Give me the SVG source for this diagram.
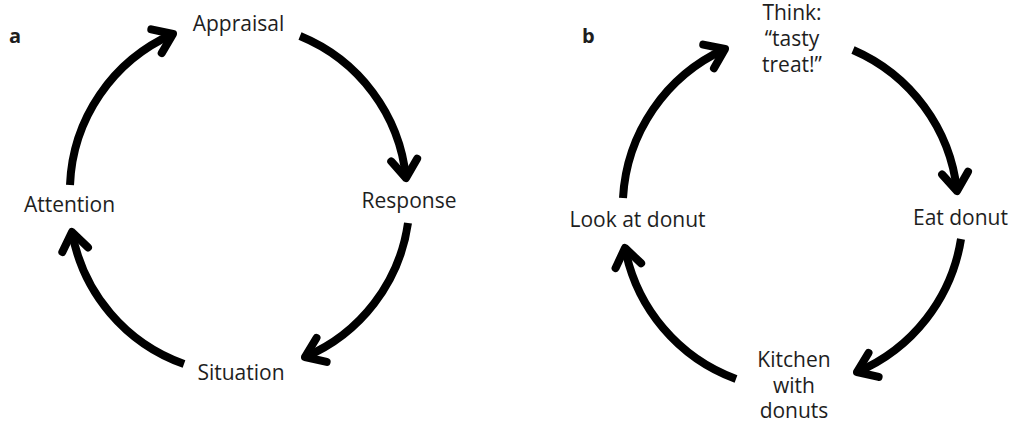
<svg xmlns="http://www.w3.org/2000/svg" width="1012" height="423" viewBox="0 0 1012 423">
  <style>
    .lbl { font-family: "Open Sans", "Liberation Sans", sans-serif; font-size: 21px; fill: #1e1e1e; text-anchor: middle; }
    .panel { font-family: "Open Sans", "Liberation Sans", sans-serif; font-size: 20px; font-weight: bold; fill: #1e1e1e; }
    .arc { fill: none; stroke: #000; stroke-width: 8; stroke-linecap: butt; marker-end: url(#ah); }
  </style>
  <defs>
    <marker id="ah" markerUnits="userSpaceOnUse" viewBox="-30 -30 40 60" markerWidth="40" markerHeight="60" refX="0" refY="0" orient="auto" overflow="visible">
      <path d="M-18,-13 L0,0 L-18,13" fill="none" stroke="#000" stroke-width="8" stroke-linecap="round" stroke-linejoin="round"/>
    </marker>
  </defs>
  <rect width="1012" height="423" fill="#fff"/>

  <g id="panel-a-label"><text class="panel" x="9" y="43">a</text></g>
  <g id="panel-b-label"><text class="panel" x="582" y="43">b</text></g>

  <g id="connectors">
    <path class="arc" d="M70,185 A172,172 0 0 1 173,34"/>
    <path class="arc" d="M300,36 A172,172 0 0 1 406,178"/>
    <path class="arc" d="M408,223 A172,172 0 0 1 305,357"/>
    <path class="arc" d="M184,364 A172,172 0 0 1 72,232"/>

    <path class="arc" d="M623,198 A174,174 0 0 1 725,49"/>
    <path class="arc" d="M853,50 A174,174 0 0 1 957,191"/>
    <path class="arc" d="M961,239 A174,174 0 0 1 857,372"/>
    <path class="arc" d="M736,379 A174,174 0 0 1 625,248"/>
  </g>

  <g id="node-appraisal"><text class="lbl" x="238.5" y="31">Appraisal</text></g>
  <g id="node-response"><text class="lbl" x="409" y="208">Response</text></g>
  <g id="node-situation"><text class="lbl" x="241" y="380">Situation</text></g>
  <g id="node-attention"><text class="lbl" x="69.5" y="212">Attention</text></g>

  <g id="node-think">
    <text class="lbl" x="792" y="20"><tspan x="792">Think:</tspan><tspan x="792" dy="26">“tasty</tspan><tspan x="792" dy="26">treat!”</tspan></text>
  </g>
  <g id="node-eat"><text class="lbl" x="960.5" y="225">Eat donut</text></g>
  <g id="node-kitchen">
    <text class="lbl" x="794" y="367"><tspan x="794">Kitchen</tspan><tspan x="794" dy="26">with</tspan><tspan x="794" dy="25">donuts</tspan></text>
  </g>
  <g id="node-look"><text class="lbl" x="637.5" y="227">Look at donut</text></g>
</svg>
